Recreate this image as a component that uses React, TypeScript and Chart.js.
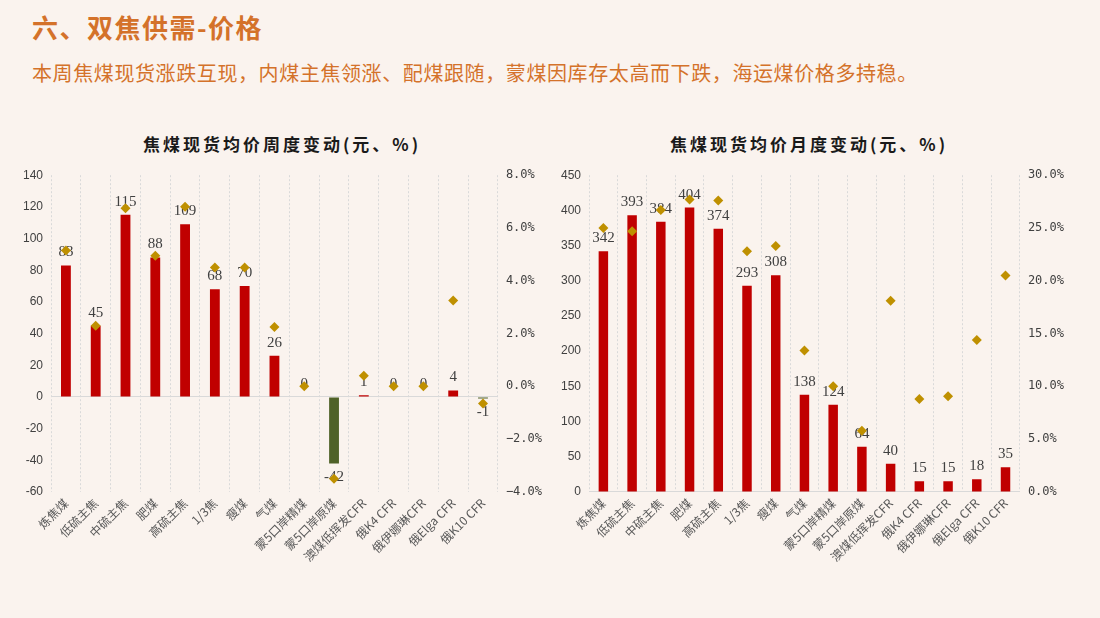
import React, { useEffect, useRef } from "react";
import { Chart, registerables } from "chart.js";
Chart.register(...registerables);

const categories = ["炼焦煤", "低硫主焦", "中硫主焦", "肥煤", "高硫主焦", "1/3焦", "瘦煤", "气煤", "蒙5口岸精煤", "蒙5口岸原煤", "澳煤低挥发CFR", "俄K4 CFR", "俄伊娜琳CFR", "俄Elga CFR", "俄K10 CFR"];
const weeklyChange = [83, 45, 115, 88, 109, 68, 70, 26, 0, -42, 1, 0, 0, 4, -1];
const weeklyPct = [5.15, 2.3, 6.75, 4.95, 6.8, 4.5, 4.5, 2.25, 0.0, -3.5, 0.4, 0.0, 0.0, 3.25, -0.65];
const monthlyChange = [342, 393, 384, 404, 374, 293, 308, 138, 124, 64, 40, 15, 15, 18, 35];
const monthlyPct = [25.0, 24.7, 26.7, 27.7, 27.6, 22.8, 23.3, 13.4, 10.0, 5.8, 18.1, 8.8, 9.05, 14.4, 20.5];

const RED = "#C00000";
const GREEN = "#4F6228";
const GOLD = "#BF9000";
const BG = "#FAF3EE";

const labelPlugin = {
  id: "barLabels",
  afterDatasetDraw(chart: any, args: any) {
    if (args.index !== 0) return;
    const ctx = chart.ctx;
    const meta = chart.getDatasetMeta(0);
    const data = chart.data.datasets[0].data as number[];
    ctx.save();
    ctx.font = "15px 'Liberation Serif', serif";
    ctx.fillStyle = "#404040";
    ctx.textAlign = "center";
    ctx.textBaseline = "middle";
    meta.data.forEach((el: any, i: number) => {
      const v = data[i];
      const y = v < 0 ? el.y + 14 : el.y - 13;
      ctx.fillText(String(v), el.x, y);
    });
    ctx.restore();
  },
};

function makeConfig(bars: number[], pct: number[], yMin: number, yMax: number, yStep: number, pMin: number, pMax: number, pStep: number, padLeft: number): any {
  return {
    type: "bar",
    data: {
      labels: categories,
      datasets: [
        {
          type: "bar",
          data: bars,
          backgroundColor: bars.map((v) => (v < 0 ? GREEN : RED)),
          barPercentage: 0.33,
          categoryPercentage: 1,
          yAxisID: "y",
          order: 2,
        },
        {
          type: "line",
          data: pct,
          showLine: false,
          pointStyle: "rectRot",
          pointRadius: 5,
          pointBackgroundColor: GOLD,
          pointBorderColor: GOLD,
          pointBorderWidth: 0,
          yAxisID: "y1",
          order: 1,
        },
      ],
    },
    options: {
      responsive: false,
      animation: false,
      layout: { padding: { top: 4, right: 2, left: padLeft, bottom: 0 } },
      plugins: { legend: { display: false }, title: { display: false }, tooltip: { enabled: false } },
      scales: {
        x: {
          offset: true,
          grid: { display: true, offset: true, color: "#D9D9D9", drawTicks: false },
          border: { display: false, dash: [2, 2] },
          ticks: {
            autoSkip: false,
            minRotation: 45,
            maxRotation: 45,
            color: "#595959",
            font: { family: "'Noto Sans CJK SC'", size: 12 },
            padding: 4,
          },
        },
        y: {
          position: "left",
          min: yMin,
          max: yMax,
          ticks: { stepSize: yStep, color: "#404040", font: { family: "'Liberation Sans', Arial", size: 12 }, padding: 8 },
          grid: {
            drawTicks: false,
            color: (c: any) => (c.tick && c.tick.value === 0 ? "#D9D9D9" : "rgba(0,0,0,0)"),
          },
          border: { display: false },
        },
        y1: {
          position: "right",
          min: pMin,
          max: pMax,
          ticks: {
            stepSize: pStep,
            color: "#404040",
            font: { family: "'DejaVu Sans Mono', monospace", size: 12 },
            padding: 8,
            callback: (v: number) => (v < 0 ? "−" : "") + Math.abs(v).toFixed(1) + "%",
          },
          grid: { display: false, drawTicks: false },
          border: { display: false },
        },
      },
    },
    plugins: [labelPlugin],
  };
}

function ChartBox(props: { cfg: any; left: number; top: number; width: number; height: number }) {
  const ref = useRef<HTMLCanvasElement>(null);
  useEffect(() => {
    const c = new Chart(ref.current as HTMLCanvasElement, props.cfg);
    return () => c.destroy();
  }, []);
  return (
    <canvas
      ref={ref}
      width={props.width}
      height={props.height}
      style={{ position: "absolute", left: props.left, top: props.top, width: props.width, height: props.height }}
    />
  );
}

export default function App() {
  const leftCfg = makeConfig(weeklyChange, weeklyPct, -60, 140, 20, -4, 8, 2, 0);
  const rightCfg = makeConfig(monthlyChange, monthlyPct, 0, 450, 50, 0, 30, 5, 8);
  const titleStyle: React.CSSProperties = {
    position: "absolute",
    fontFamily: "'Noto Sans CJK SC', sans-serif",
    fontWeight: 700,
    fontSize: 17,
    letterSpacing: 3,
    color: "#1a1a1a",
    top: 131,
    whiteSpace: "nowrap",
    transform: "translateX(-50%)",
  };
  return (
    <div style={{ position: "fixed", left: 0, top: 0, width: 1100, height: 618, background: BG, overflow: "hidden" }}>
      <div style={{ position: "absolute", left: 32, top: 8, fontFamily: "'Noto Sans CJK SC', sans-serif", fontWeight: 700, fontSize: 26, letterSpacing: 1.5, color: "#D4722A", whiteSpace: "nowrap" }}>
        六、双焦供需-价格
      </div>
      <div style={{ position: "absolute", left: 32, top: 58, fontFamily: "'Noto Sans CJK SC', sans-serif", fontSize: 20, letterSpacing: 0.6, color: "#D4722A", whiteSpace: "nowrap" }}>
        本周焦煤现货涨跌互现，内煤主焦领涨、配煤跟随，蒙煤因库存太高而下跌，海运煤价格多持稳。
      </div>
      <div style={{ ...titleStyle, left: 282 }}>焦煤现货均价周度变动(元、%)</div>
      <div style={{ ...titleStyle, left: 809 }}>焦煤现货均价月度变动(元、%)</div>
      <ChartBox cfg={leftCfg} left={15} top={160} width={537} height={408} />
      <ChartBox cfg={rightCfg} left={545} top={160} width={529} height={408} />
    </div>
  );
}
